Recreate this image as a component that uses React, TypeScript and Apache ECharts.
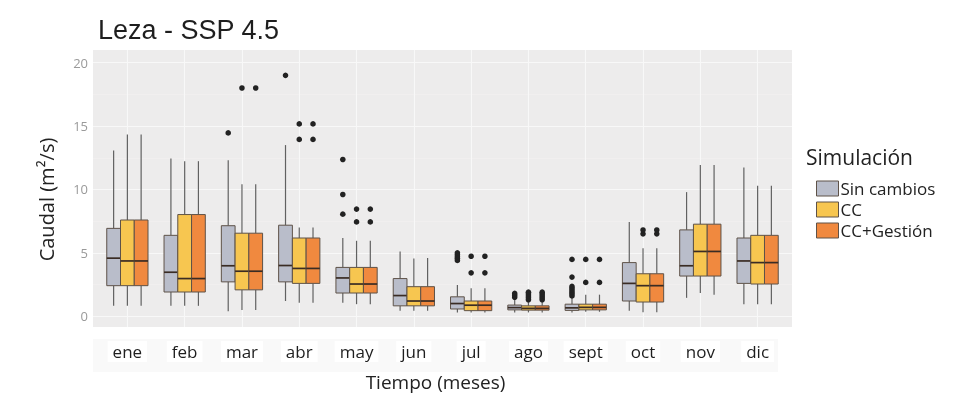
import React, { useEffect, useRef } from 'react';
import * as echarts from 'echarts';

const months = ['ene', 'feb', 'mar', 'abr', 'may', 'jun', 'jul', 'ago', 'sept', 'oct', 'nov', 'dic'];
const seriesNames = ['Sin cambios', 'CC', 'CC+Gestión'];

// [lower whisker, Q1, median, Q3, upper whisker] per month
const sinCambiosBox = [
  [0.82, 2.41, 4.58, 6.93, 13.07],
  [0.82, 1.91, 3.47, 6.38, 12.44],
  [0.4, 2.71, 3.98, 7.14, 12.31],
  [1.2, 2.71, 4.0, 7.18, 13.5],
  [1.07, 1.83, 3.02, 3.85, 6.17],
  [0.44, 0.82, 1.63, 2.97, 5.11],
  [0.3, 0.57, 1.0, 1.53, 2.46],
  [0.3, 0.5, 0.68, 0.88, 1.35],
  [0.3, 0.46, 0.66, 0.95, 1.45],
  [0.44, 1.2, 2.59, 4.23, 7.44],
  [1.45, 3.17, 3.98, 6.81, 9.79],
  [0.95, 2.59, 4.36, 6.17, 11.73],
];
const ccBox = [
  [0.82, 2.41, 4.36, 7.59, 14.33],
  [0.82, 1.91, 2.97, 8.02, 12.23],
  [0.5, 2.08, 3.55, 6.55, 10.42],
  [1.07, 2.59, 3.77, 6.17, 7.0],
  [0.95, 1.83, 2.54, 3.85, 5.95],
  [0.44, 0.82, 1.2, 2.33, 4.56],
  [0.3, 0.44, 0.87, 1.2, 2.21],
  [0.3, 0.48, 0.62, 0.82, 1.15],
  [0.35, 0.5, 0.7, 0.95, 1.7],
  [0.32, 1.12, 2.41, 3.35, 5.37],
  [1.83, 3.17, 5.11, 7.26, 11.93],
  [0.95, 2.54, 4.23, 6.38, 10.29],
];
const ccGestionBox = [
  [0.82, 2.41, 4.36, 7.59, 14.33],
  [0.82, 1.91, 2.97, 8.02, 12.23],
  [0.5, 2.08, 3.55, 6.55, 10.42],
  [1.07, 2.59, 3.77, 6.17, 7.0],
  [0.95, 1.83, 2.54, 3.85, 5.95],
  [0.44, 0.82, 1.2, 2.33, 4.6],
  [0.3, 0.44, 0.87, 1.2, 2.21],
  [0.3, 0.48, 0.62, 0.82, 1.15],
  [0.35, 0.5, 0.7, 0.95, 1.7],
  [0.32, 1.12, 2.41, 3.35, 5.37],
  [1.7, 3.17, 5.11, 7.26, 11.93],
  [0.95, 2.54, 4.23, 6.38, 10.29],
];

// outliers: [month index, value]
const sinCambiosOut = [
  [2, 14.46], [3, 19.0], [4, 8.05], [4, 9.6], [4, 12.36],
  [6, 4.4], [6, 4.55], [6, 4.7], [6, 4.85], [6, 5.0],
  [7, 1.5], [7, 1.65], [7, 1.8],
  [8, 1.6], [8, 1.75], [8, 1.9], [8, 2.05], [8, 2.2], [8, 2.35], [8, 3.09], [8, 4.48],
];
const ccOut = [
  [2, 18.0], [3, 13.95], [3, 15.17], [4, 7.44], [4, 8.45],
  [6, 3.42], [6, 4.73], [7, 1.3], [7, 1.45], [7, 1.6], [7, 1.75], [7, 1.9],
  [8, 2.67], [8, 4.48], [9, 6.5], [9, 6.8],
];
const ccGestionOut = [
  [2, 18.0], [3, 13.95], [3, 15.17], [4, 7.44], [4, 8.45],
  [6, 3.42], [6, 4.73], [7, 1.3], [7, 1.45], [7, 1.6], [7, 1.75], [7, 1.9],
  [8, 2.67], [8, 4.48], [9, 6.5], [9, 6.8],
];

const yMajor = [0, 5, 10, 15, 20];
const yMinor = [2.5, 7.5, 12.5, 17.5];

const fills = ['#B9BDCA', '#F7C650', '#F0893F'];
const FONT = 'Open Sans';

export default function App() {
  const ref = useRef<HTMLDivElement>(null);
  useEffect(() => {
    const chart = echarts.init(ref.current!, null, { renderer: 'svg' });
    const DODGE = 0.24;
    const boxes = [sinCambiosBox, ccBox, ccGestionBox];
    const outs = [sinCambiosOut, ccOut, ccGestionOut];

    const boxSeries = boxes.map((data, gi) => ({
      type: 'custom',
      name: seriesNames[gi],
      z: 3,
      itemStyle: { color: fills[gi] },
      encode: { x: 0, y: [1, 2, 3, 4, 5] },
      data: data.map((d, i) => [i, ...d]),
      renderItem: (params: any, api: any) => {
        const idx = api.value(0);
        const unit = api.size([1, 0])[0];
        const w = DODGE * unit;
        const off = (gi - 1) * w;
        const pLow = api.coord([idx, api.value(1)]);
        const pQ1 = api.coord([idx, api.value(2)]);
        const pMed = api.coord([idx, api.value(3)]);
        const pQ3 = api.coord([idx, api.value(4)]);
        const pHigh = api.coord([idx, api.value(5)]);
        const cx = pMed[0] + off;
        const wStyle = { stroke: '#616161', lineWidth: 1.2 };
        return {
          type: 'group',
          children: [
            { type: 'line', shape: { x1: cx, y1: pHigh[1], x2: cx, y2: pQ3[1] }, style: wStyle },
            { type: 'line', shape: { x1: cx, y1: pQ1[1], x2: cx, y2: pLow[1] }, style: wStyle },
            {
              type: 'rect',
              shape: { x: cx - w / 2, y: pQ3[1], width: w, height: pQ1[1] - pQ3[1] },
              style: { fill: fills[gi], stroke: '#5e5248', lineWidth: 1 },
            },
            {
              type: 'line',
              shape: { x1: cx - w / 2, y1: pMed[1], x2: cx + w / 2, y2: pMed[1] },
              style: { stroke: '#3a2c24', lineWidth: 1.7 },
            },
          ],
        };
      },
    }));

    const outSeries = outs.map((data, gi) => ({
      type: 'custom',
      name: 'out' + gi,
      z: 4,
      encode: { x: 0, y: 1 },
      data,
      renderItem: (params: any, api: any) => {
        const unit = api.size([1, 0])[0];
        const off = (gi - 1) * DODGE * unit;
        const p = api.coord([api.value(0), api.value(1)]);
        return {
          type: 'circle',
          shape: { cx: p[0] + off, cy: p[1], r: 2.8 },
          style: { fill: '#222222' },
        };
      },
    }));

    const major = { color: '#F8F8F8', width: 1.1, type: 'solid' };
    const minor = { color: '#F3F2F2', width: 0.6, type: 'solid' };

    const gridSeries = {
      type: 'line',
      name: 'grid',
      data: [],
      z: 1,
      silent: true,
      markLine: {
        z: 1,
        silent: true,
        symbol: ['none', 'none'],
        label: { show: false },
        animation: false,
        data: [
          ...yMinor.map((v) => ({ yAxis: v, lineStyle: minor })),
          ...yMajor.map((v) => ({ yAxis: v, lineStyle: major })),
          ...months.map((_, i) => ({ xAxis: i, lineStyle: major })),
        ],
      },
    };

    chart.setOption({
      animation: false,
      textStyle: { fontFamily: FONT },
      title: [
        {
          text: 'Leza - SSP 4.5',
          left: 93,
          top: 11,
          textStyle: { fontFamily: 'Liberation Sans', fontSize: 27, fontWeight: 'normal', color: '#1e1e1e' },
        },
        {
          text: 'Simulación',
          left: 801,
          top: 141,
          textStyle: { fontFamily: FONT, fontSize: 21, fontWeight: 'normal', color: '#222' },
        },
      ],
      legend: {
        data: seriesNames,
        orient: 'vertical',
        left: 811,
        top: 175,
        icon: 'rect',
        itemWidth: 22,
        itemHeight: 15,
        itemGap: 4,
        itemStyle: { borderColor: '#5e5248', borderWidth: 1 },
        textStyle: { fontFamily: FONT, fontSize: 17, color: '#222', padding: [0, 0, 0, -3] },
      },
      graphic: [
        {
          type: 'rect',
          z: -10,
          shape: { x: 93, y: 339, width: 685, height: 33 },
          style: { fill: '#F9F9F9' },
        },
      ],
      grid: {
        left: 93,
        top: 50,
        width: 699,
        height: 289,
        show: true,
        backgroundColor: '#EDECEC',
        borderWidth: 0,
      },
      xAxis: {
        type: 'value',
        min: -0.6,
        max: 11.6,
        axisLine: { show: false },
        splitLine: { show: false },
        axisTick: { show: true, length: 4, lineStyle: { color: '#8a8a8a' }, customValues: months.map((_, i) => i) },
        axisLabel: {
          customValues: months.map((_, i) => i),
          formatter: (v: number) => months[Math.round(v)] ?? '',
          fontFamily: FONT,
          fontSize: 17,
          color: '#1e1e1e',
          margin: 14,
          backgroundColor: '#FFFFFF',
          padding: [2, 5, 2, 5],
        },
        name: 'Tiempo (meses)',
        nameLocation: 'middle',
        nameGap: 45,
        nameTextStyle: { fontFamily: FONT, fontSize: 19, color: '#222', padding: [0, 14, 0, 0] },
      },
      yAxis: {
        type: 'value',
        min: -0.85,
        max: 21,
        axisLine: { show: false },
        splitLine: { show: false },
        axisTick: { show: true, length: 4, lineStyle: { color: '#aaaaaa' }, customValues: yMajor },
        axisLabel: {
          customValues: yMajor,
          fontFamily: FONT,
          fontSize: 13,
          color: '#9a9a9a',
          margin: 5,
        },
        name: 'Caudal (m²/s)',
        nameLocation: 'middle',
        nameGap: 37,
        nameTextStyle: { fontFamily: FONT, fontSize: 20, color: '#222', padding: [0, 22, 0, 0] },
      },
      series: [gridSeries, ...boxSeries, ...outSeries],
    });
    return () => chart.dispose();
  }, []);
  return <div ref={ref} style={{ position: 'fixed', left: 0, top: 0, width: 953, height: 396 }} />;
}
